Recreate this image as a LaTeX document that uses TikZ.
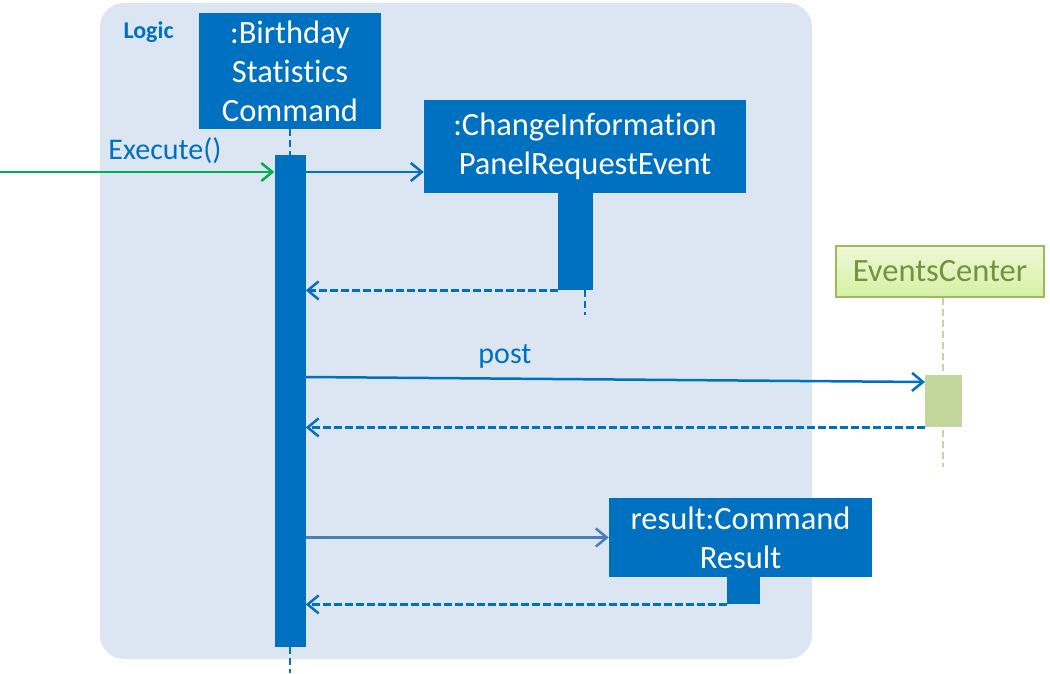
\documentclass[tikz,border=0pt]{standalone}
\usepackage{fontspec}
\setmainfont[Ligatures=NoCommon]{Carlito}
\usetikzlibrary{arrows.meta,positioning,calc}
\definecolor{seqblue}{RGB}{0,112,192}
\definecolor{framebg}{RGB}{220,230,242}
\definecolor{foundgreen}{RGB}{0,176,80}
\definecolor{softcall}{RGB}{74,126,187}
\definecolor{ecborder}{RGB}{155,187,89}
\definecolor{ectext}{RGB}{118,146,60}
\definecolor{ecfill}{RGB}{195,214,155}
\definecolor{ectop}{RGB}{238,248,214}
\definecolor{ecbottom}{RGB}{214,240,166}
\tikzset{
  obj/.style={rectangle,fill=seqblue,text=white,inner sep=0pt,align=center,
              font=\fontsize{32.5}{39}\selectfont},
  events/.style={rectangle,draw=ecborder,line width=2.5pt,top color=ectop,
              bottom color=ecbottom,text=ectext,inner sep=0pt,
              font=\fontsize{32.5}{39}\selectfont},
  actbar/.style={rectangle,fill=seqblue,inner sep=0pt,minimum width=31pt},
  ecact/.style={rectangle,fill=ecfill,inner sep=0pt},
  life/.style={draw=seqblue,line width=2.5pt,dash pattern=on 7pt off 4pt},
  eclife/.style={life,draw=ecfill},
  call/.style={-{Straight Barb[length=11pt,width=18pt]},draw=seqblue,line width=2.5pt},
  found/.style={call,draw=foundgreen},
  ret/.style={call,dash pattern=on 8pt off 3pt},
  lbl/.style={text=seqblue,font=\fontsize{30}{34}\selectfont},
}
\begin{document}
\begin{tikzpicture}[x=1pt,y=-1pt]
  \useasboundingbox (0,0) rectangle (1050,673);
  % the Logic frame
  \fill[framebg,rounded corners=24pt] (100,3) rectangle (812,659);
  \node[font=\fontsize{24}{28}\selectfont\bfseries,text=seqblue,anchor=west]
    (logic) at (120,32) {Logic};
  % participants
  \node[obj,minimum width=182pt,minimum height=116pt] (bsc) at (290,71)
    {:Birthday\\Statistics\\Command};
  \node[obj,minimum width=322pt,minimum height=93pt] (cipre) at (585,146.5)
    {:ChangeInformation\\PanelRequestEvent};
  \node[events,minimum width=208pt,minimum height=51pt] (ec) at (940,271.5)
    {EventsCenter};
  \node[obj,minimum width=263pt,minimum height=79pt] (res) at (740.5,537.5)
    {result:Command\\Result};
  % lifelines
  \draw[eclife] (943,298) -- (943,467);
  \draw[life] (bsc.south) -- (bsc.south |- 0,155);
  \draw[life] (bsc.south |- 0,647) -- (bsc.south |- 0,673);
  \draw[life] (cipre.south |- 0,290) -- (cipre.south |- 0,315);
  % activation bars
  \node[actbar,minimum height=492pt,anchor=north] (bscbar) at (bsc.south |- 0,155) {};
  \node[actbar,minimum width=35pt,minimum height=97pt,anchor=north west]
    (ciprebar) at (558,193) {};
  \node[ecact,minimum width=37pt,minimum height=52pt,anchor=north west]
    (ecbar) at (925,375) {};
  \node[actbar,minimum width=33pt,minimum height=27pt,anchor=north west]
    (resbar) at (727,577) {};
  % messages
  \coordinate (start) at (0,172);
  \draw[found] (start) -- (start -| bscbar.west);
  \node[lbl] (execlbl) at (165,151) {Execute()};
  \draw[call] (bscbar.east |- start) -- (cipre.west |- start);
  \draw[ret] (ciprebar.south west) -- (bscbar.east |- ciprebar.south west);
  \draw[call] (bscbar.east |- 0,377) -- (ecbar.west |- 0,382);
  \node[lbl] (postlbl) at (505,356) {post};
  \draw[ret] (ecbar.south west) -- (bscbar.east |- ecbar.south west);
  \draw[call,draw=softcall] (bscbar.east |- res.west) -- (res.west);
  \draw[ret] (resbar.south west) -- (bscbar.east |- resbar.south west);
\end{tikzpicture}
\end{document}
